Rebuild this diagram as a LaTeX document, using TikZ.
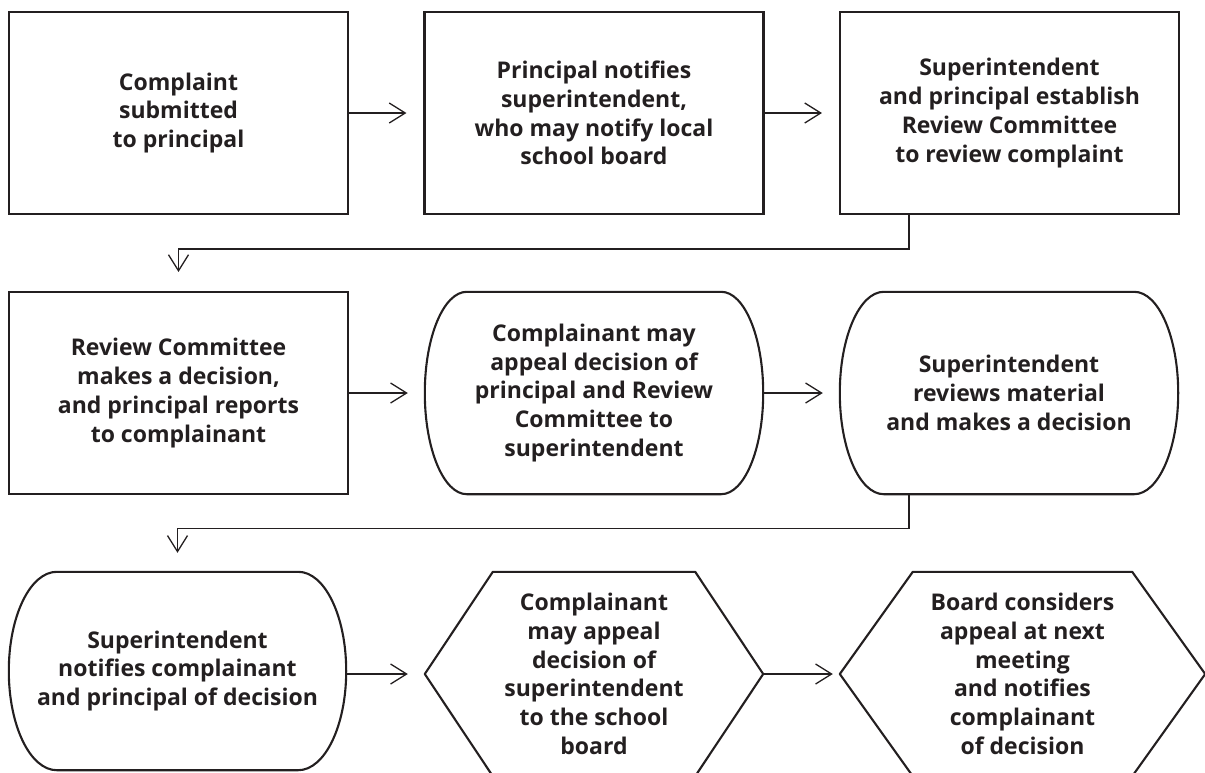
\documentclass[tikz,border=0pt]{standalone}
\usepackage{fontspec}
\setmainfont{Open Sans}
\usetikzlibrary{arrows.meta,calc}
\definecolor{ink}{HTML}{231F20}
\newcommand\rndoutline[3]{%
 \draw[shapeline] ([xshift=#2]#1.north west) -- ([xshift=-#2]#1.north east)
 .. controls ([xshift=-0.4477*#2]#1.north east) and ([yshift=#3]#1.east) .. (#1.east)
 .. controls ([yshift=-#3]#1.east) and ([xshift=-0.4477*#2]#1.south east) .. ([xshift=-#2]#1.south east)
 -- ([xshift=#2]#1.south west)
 .. controls ([xshift=0.4477*#2]#1.south west) and ([yshift=-#3]#1.west) .. (#1.west)
 .. controls ([yshift=#3]#1.west) and ([xshift=0.4477*#2]#1.north west) .. cycle;}
\newcommand\hexoutline[2]{%
 \draw[shapeline] (#1.west) -- ([xshift=#2]#1.north west) -- ([xshift=-#2]#1.north east)
 -- (#1.east) -- ([xshift=-#2]#1.south east) -- ([xshift=#2]#1.south west) -- cycle;}
\begin{document}
\begin{tikzpicture}[x=1pt,y=-1pt,
  shapeline/.style={draw=ink,line width=2.1pt,line join=round},
  txt/.style={inner sep=0pt,align=center,text=ink,
    font=\fontsize{23}{28.7}\selectfont\bfseries},
  boxnode/.style={txt,draw=ink,line width=2.1pt,minimum width=339pt,minimum height=202pt},
  flow/.style={draw=ink,line width=1.4pt,-{Straight Barb[length=16pt,width=20pt,line width=1.3pt]}}]
\useasboundingbox (0,0) rectangle (1205,772);
\clip (0,0) rectangle (1205,772);
% row 1
\node[boxnode] (b1) at (178.5,113) {Complaint\\submitted\\to principal};
\node[boxnode] (b2) at (594,113) {Principal notifies\\superintendent,\\who may notify local\\school board};
\node[boxnode] (b3) at (1009.5,113) {Superintendent\\and principal establish\\Review Committee\\to review complaint};
% row 2
\node[boxnode] (b4) at (178.5,393) {Review Committee\\makes a decision,\\and principal reports\\to complainant};
\node[txt,minimum width=338pt,minimum height=202pt] (s5) at (594,393) {Complainant may\\appeal decision of\\principal and Review\\Committee to\\superintendent};
\node[txt,minimum width=338pt,minimum height=202pt] (s6) at (1009,393) {Superintendent\\reviews material\\and makes a decision};
\rndoutline{s5}{42pt}{56pt}
\rndoutline{s6}{44pt}{56pt}
% row 3
\node[txt,minimum width=337pt,minimum height=198pt] (s7) at (177.5,671) {\raisebox{-3pt}{\begin{tabular}{@{}c@{}}Superintendent\\notifies complainant\\and principal of decision\end{tabular}}};
\node[txt,minimum width=338pt,minimum height=204pt] (h8) at (594,674) {Complainant\\may appeal\\decision of\\superintendent\\to the school\\board};
\node[txt,minimum width=365pt,minimum height=204pt] (h9) at (1022.5,674) {Board considers\\appeal at next\\meeting\\and notifies\\complainant\\of decision};
\rndoutline{s7}{48pt}{55pt}
\hexoutline{h8}{68pt}
\hexoutline{h9}{73pt}
% connectors
\draw[flow,shorten >=17pt] (b1.east) -- (b2.west);
\draw[flow,shorten >=17pt] (b2.east) -- (b3.west);
\draw[flow,shorten >=19pt] ([xshift=-100.5pt]b3.south) -- ++(0,34) -| (b4.north);
\draw[flow,shorten >=17pt] (b4.east) -- (s5.west);
\draw[flow,shorten >=17pt] (s5.east) -- (s6.west);
\draw[flow,shorten >=19pt] ([xshift=-100pt]s6.south) -- ++(0,34) -| (s7.north);
\draw[flow,shorten >=17pt] (s7.east |- h8.west) -- (h8.west);
\draw[flow,shorten >=7pt] (h8.east) -- (h9.west);
\end{tikzpicture}
\end{document}
